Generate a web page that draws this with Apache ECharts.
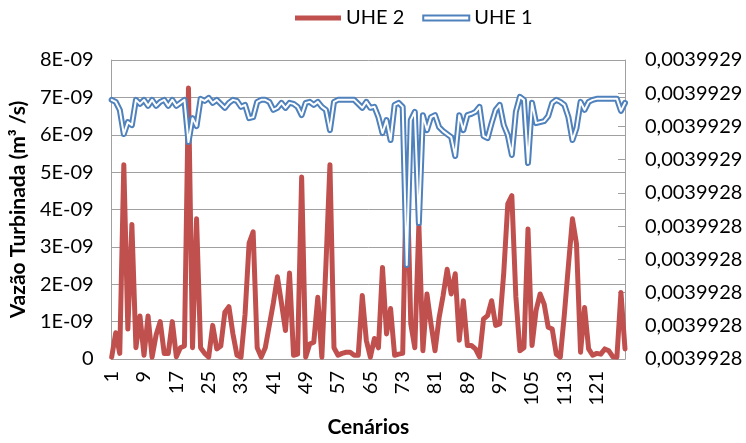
<!DOCTYPE html>
<html>
<head>
<meta charset="utf-8">
<script src="https://cdn.jsdelivr.net/npm/echarts@6/dist/echarts.min.js"></script>
<style>
  html, body { margin: 0; padding: 0; background: #fff; }
  #chart { width: 746px; height: 443px; }
</style>
</head>
<body>
<div id="chart"></div>
<script>
// Scenario numbers (x axis)
const categories = [
  '1','2','3','4','5','6','7','8','9','10','11','12','13','14','15','16',
  '17','18','19','20','21','22','23','24','25','26','27','28','29','30','31','32',
  '33','34','35','36','37','38','39','40','41','42','43','44','45','46','47','48',
  '49','50','51','52','53','54','55','56','57','58','59','60','61','62','63','64',
  '65','66','67','68','69','70','71','72','73','74','75','76','77','78','79','80',
  '81','82','83','84','85','86','87','88','89','90','91','92','93','94','95','96',
  '97','98','99','100','101','102','103','104','105','106','107','108','109','110','111','112',
  '113','114','115','116','117','118','119','120','121','122','123','124','125','126','127','128'
];

// UHE 2 turbined flow, left axis (m3/s)
const uhe2 = [
  0.05e-9, 0.7e-9, 0.15e-9, 5.2e-9, 0.8e-9, 3.6e-9, 0.3e-9, 1.15e-9,
  0.1e-9, 1.15e-9, 0.05e-9, 0.65e-9, 1.0e-9, 0.15e-9, 0.15e-9, 1.0e-9,
  0.06e-9, 0.3e-9, 0.35e-9, 7.25e-9, 0.3e-9, 3.75e-9, 0.3e-9, 0.15e-9,
  0.05e-9, 0.9e-9, 0.27e-9, 0.35e-9, 1.25e-9, 1.4e-9, 0.67e-9, 0.1e-9,
  0.05e-9, 1.2e-9, 3.1e-9, 3.4e-9, 0.3e-9, 0.05e-9, 0.3e-9, 0.9e-9,
  1.5e-9, 2.2e-9, 1.5e-9, 0.76e-9, 2.3e-9, 0.1e-9, 0.13e-9, 4.87e-9,
  0.05e-9, 0.4e-9, 0.45e-9, 1.65e-9, 0.05e-9, 2.5e-9, 5.2e-9, 0.3e-9,
  0.1e-9, 0.15e-9, 0.18e-9, 0.18e-9, 0.1e-9, 0.1e-9, 1.7e-9, 0.5e-9,
  0.05e-9, 0.55e-9, 0.3e-9, 2.45e-9, 0.67e-9, 1.35e-9, 0.1e-9, 0.13e-9,
  0.15e-9, 5.3e-9, 0.94e-9, 0.3e-9, 3.6e-9, 0.22e-9, 1.74e-9, 0.94e-9,
  0.22e-9, 1.1e-9, 1.7e-9, 2.4e-9, 1.74e-9, 2.28e-9, 0.5e-9, 1.56e-9,
  0.36e-9, 0.36e-9, 0.27e-9, 0.06e-9, 1.07e-9, 1.16e-9, 1.56e-9, 0.9e-9,
  0.94e-9, 2.3e-9, 4.15e-9, 4.37e-9, 1.66e-9, 0.22e-9, 0.3e-9, 3.48e-9,
  0.36e-9, 1.3e-9, 1.74e-9, 1.47e-9, 0.85e-9, 0.8e-9, 0.13e-9, 0.05e-9,
  1.2e-9, 2.5e-9, 3.75e-9, 3.08e-9, 0.18e-9, 1.38e-9, 0.27e-9, 0.1e-9,
  0.15e-9, 0.13e-9, 0.27e-9, 0.22e-9, 0.06e-9, 0.05e-9, 1.78e-9, 0.27e-9
];

// UHE 1 turbined flow, right axis (m3/s)
const uhe1 = [
  0.0039928680, 0.0039928674, 0.0039928650, 0.0039928577, 0.0039928613, 0.0039928604, 0.0039928680, 0.0039928668,
  0.0039928680, 0.0039928662, 0.0039928680, 0.0039928662, 0.0039928674, 0.0039928680, 0.0039928662, 0.0039928680,
  0.0039928662, 0.0039928671, 0.0039928680, 0.0039928553, 0.0039928625, 0.0039928601, 0.0039928683, 0.0039928677,
  0.0039928686, 0.0039928671, 0.0039928680, 0.0039928668, 0.0039928656, 0.0039928671, 0.0039928680, 0.0039928677,
  0.0039928659, 0.0039928665, 0.0039928625, 0.0039928628, 0.0039928674, 0.0039928680, 0.0039928680, 0.0039928674,
  0.0039928650, 0.0039928656, 0.0039928671, 0.0039928656, 0.0039928671, 0.0039928668, 0.0039928659, 0.0039928634,
  0.0039928671, 0.0039928674, 0.0039928665, 0.0039928674, 0.0039928659, 0.0039928650, 0.0039928589, 0.0039928674,
  0.0039928680, 0.0039928680, 0.0039928680, 0.0039928680, 0.0039928680, 0.0039928668, 0.0039928656, 0.0039928674,
  0.0039928656, 0.0039928659, 0.0039928628, 0.0039928580, 0.0039928619, 0.0039928559, 0.0039928665, 0.0039928671,
  0.0039928659, 0.0039928183, 0.0039928619, 0.0039928644, 0.0039928309, 0.0039928634, 0.0039928589, 0.0039928628,
  0.0039928634, 0.0039928598, 0.0039928586, 0.0039928577, 0.0039928568, 0.0039928511, 0.0039928634, 0.0039928589,
  0.0039928634, 0.0039928638, 0.0039928644, 0.0039928659, 0.0039928571, 0.0039928565, 0.0039928610, 0.0039928650,
  0.0039928665, 0.0039928604, 0.0039928574, 0.0039928514, 0.0039928644, 0.0039928689, 0.0039928680, 0.0039928490,
  0.0039928671, 0.0039928610, 0.0039928613, 0.0039928616, 0.0039928631, 0.0039928671, 0.0039928680, 0.0039928674,
  0.0039928665, 0.0039928628, 0.0039928559, 0.0039928595, 0.0039928674, 0.0039928650, 0.0039928674, 0.0039928680,
  0.0039928683, 0.0039928683, 0.0039928683, 0.0039928683, 0.0039928683, 0.0039928683, 0.0039928647, 0.0039928671
];

// Tick labels as printed on each value axis (bottom to top)
const leftTickLabels = ['0', '1E-09', '2E-09', '3E-09', '4E-09', '5E-09', '6E-09', '7E-09', '8E-09'];
const rightTickLabels = ['0,0039928', '0,0039928', '0,0039928', '0,0039928', '0,0039928', '0,0039928',
                         '0,0039929', '0,0039929', '0,0039929', '0,0039929'];

const RED = '#C0504D';
const BLUE = '#4F81BD';
const GRID_GRAY = '#A0A0A0';
const FONT = 'Lato';

const chart = echarts.init(document.getElementById('chart'), null, { renderer: 'canvas' });

chart.setOption({
  animation: false,
  backgroundColor: '#fff',
  textStyle: { fontFamily: FONT, color: '#000' },
  legend: {
    left: 290,
    top: 3,
    itemWidth: 46,
    itemHeight: 5,
    itemGap: 18,
    textStyle: { fontFamily: FONT, fontSize: 20, color: '#000' },
    data: [
      { name: 'UHE 2', icon: 'rect', itemStyle: { color: RED } },
      { name: 'UHE 1', icon: 'rect', itemStyle: { color: '#fff', borderColor: BLUE, borderWidth: 2 } }
    ]
  },
  grid: { left: 110, right: 121, top: 60, bottom: 84, containLabel: false },
  xAxis: {
    type: 'category',
    data: categories,
    boundaryGap: false,
    name: 'Cenários',
    nameLocation: 'middle',
    nameGap: 58,
    nameTextStyle: { fontFamily: FONT, fontSize: 21, fontWeight: 'bold', color: '#000' },
    axisLine: { show: true, lineStyle: { color: GRID_GRAY, width: 1 } },
    axisTick: { show: false },
    axisLabel: {
      interval: 7,
      rotate: 90,
      margin: 12,
      fontFamily: FONT,
      fontSize: 20,
      color: '#000'
    },
    splitLine: { show: false }
  },
  yAxis: [
    {
      type: 'value',
      position: 'left',
      min: 0,
      max: 8e-9,
      interval: 1e-9,
      name: 'Vazão Turbinada (m³ /s)',
      nameLocation: 'middle',
      nameGap: 78,
      nameTextStyle: { fontFamily: FONT, fontSize: 21, fontWeight: 'bold', color: '#000' },
      axisLine: { show: true, lineStyle: { color: GRID_GRAY, width: 1 } },
      axisTick: { show: false },
      axisLabel: {
        margin: 18,
        fontFamily: FONT,
        fontSize: 20,
        color: '#000',
        formatter: (v, i) => leftTickLabels[i]
      },
      splitLine: { show: true, lineStyle: { color: GRID_GRAY, width: 1 } }
    },
    {
      type: 'value',
      position: 'right',
      min: 0.00399279,
      max: 0.00399288,
      interval: 0.00000001,
      axisLine: { show: true, lineStyle: { color: GRID_GRAY, width: 1 } },
      axisTick: { show: true, inside: true, length: 7, lineStyle: { color: GRID_GRAY } },
      axisLabel: {
        margin: 20,
        fontFamily: FONT,
        fontSize: 20,
        color: '#000',
        formatter: (v, i) => rightTickLabels[i]
      },
      splitLine: { show: false }
    }
  ],
  series: [
    {
      name: 'UHE 2',
      type: 'line',
      yAxisIndex: 0,
      data: uhe2,
      showSymbol: false,
      symbol: 'none',
      lineStyle: { color: RED, width: 5, join: 'round', cap: 'round' },
      itemStyle: { color: RED },
      z: 2
    },
    {
      name: 'UHE 1',
      type: 'line',
      yAxisIndex: 1,
      data: uhe1,
      showSymbol: false,
      symbol: 'none',
      lineStyle: { color: BLUE, width: 6, join: 'round', cap: 'round' },
      itemStyle: { color: BLUE },
      z: 3
    },
    {
      // white core of the double line
      name: 'UHE 1 core',
      type: 'line',
      yAxisIndex: 1,
      data: uhe1,
      showSymbol: false,
      symbol: 'none',
      lineStyle: { color: '#fff', width: 2, join: 'round', cap: 'round' },
      itemStyle: { color: '#fff' },
      z: 4
    }
  ]
});
</script>
</body>
</html>
